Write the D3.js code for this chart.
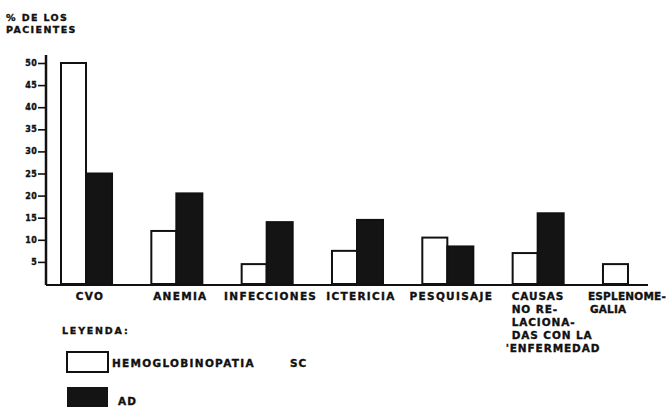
<!DOCTYPE html>
<html>
<head>
<meta charset="utf-8">
<script src="https://cdn.jsdelivr.net/npm/d3@7"></script>
<style>
  body { margin: 0; background: #fff; }
  text { font-family: "DejaVu Sans", sans-serif; font-weight: bold; fill: #111; stroke: #111; stroke-width: 0.35; }
</style>
</head>
<body>
<div id="canvas"></div>
<script>
"use strict"

/* Data */
let categories = ["CVO", "ANEMIA", "INFECCIONES", "ICTERICIA", "PESQUISAJE", "CAUSAS", "ESPLENOMEGALIA"];
let categoryLines = [["CVO"], ["ANEMIA"], ["INFECCIONES"], ["ICTERICIA"], ["PESQUISAJE"],
                     ["CAUSAS", "NO RE-", "LACIONA-", "DAS CON LA", "ENFERMEDAD"],
                     ["ESPLENOME-", "GALIA"]];
let seriesNames = ["SC", "AD"];
let valuesSC = [50, 12, 4.5, 7.5, 10.5, 7, 4.5];
let valuesAD = [25, 20.5, 14, 14.5, 8.5, 16, null];
let yTicks = [5, 10, 15, 20, 25, 30, 35, 40, 45, 50];

/* Drawing config */
let svgWidth = 671;
let svgHeight = 407;
let axisX = 46;
let baseY = 284;

let svg = d3.select("#canvas")
    .append("svg")
    .attr("width", svgWidth)
    .attr("height", svgHeight);

let xScale = d3.scaleBand()
    .domain(categories)
    .range([60, 654])
    .paddingInner(0.424)
    .paddingOuter(0);

let subScale = d3.scaleBand()
    .domain(seriesNames)
    .range([0, xScale.bandwidth()]);

let yScale = d3.scaleLinear()
    .domain([0, 50])
    .range([baseY, 63]);

/* bars */
let rows = categories.map((c, i) => ({cat: c, SC: valuesSC[i], AD: valuesAD[i]}));

let groups = svg.selectAll("g.grp")
    .data(rows)
    .join("g")
    .attr("class", "grp")
    .attr("transform", d => "translate(" + xScale(d.cat) + ",0)");

groups.selectAll("rect")
    .data(d => seriesNames.filter(s => d[s] != null).map(s => ({s: s, v: d[s]})))
    .join("rect")
    .attr("x", d => subScale(d.s) + (d.s === "SC" ? 1 : 0))
    .attr("y", d => yScale(d.v))
    .attr("width", d => subScale.bandwidth() - (d.s === "SC" ? 1 : 0))
    .attr("height", d => baseY - yScale(d.v))
    .attr("fill", d => d.s === "SC" ? "#fff" : "#141414")
    .attr("stroke", "#111")
    .attr("stroke-width", 2);

/* y axis */
let yAxis = svg.append("g")
    .attr("transform", "translate(" + axisX + ",0)")
    .call(d3.axisLeft(yScale).tickValues(yTicks).tickSize(8).tickSizeOuter(0).tickPadding(1));
yAxis.select(".domain").remove();
yAxis.selectAll(".tick line").attr("stroke", "#111").attr("stroke-width", 1.6);
yAxis.selectAll(".tick text")
    .attr("font-family", "DejaVu Sans")
    .attr("font-weight", "bold")
    .attr("font-size", 8)
    .attr("letter-spacing", 0.3)
    .attr("fill", "#111");

svg.append("line")
    .attr("x1", axisX).attr("x2", axisX)
    .attr("y1", 55).attr("y2", baseY + 1)
    .attr("stroke", "#111").attr("stroke-width", 2.5);

svg.append("line")
    .attr("x1", axisX).attr("x2", 648)
    .attr("y1", baseY + 1).attr("y2", baseY + 1)
    .attr("stroke", "#111").attr("stroke-width", 2);

/* y title */
svg.append("text").attr("x", 6).attr("y", 21)
    .attr("font-size", 9.5).attr("letter-spacing", 1.4)
    .text("% DE LOS");
svg.append("text").attr("x", 6).attr("y", 33)
    .attr("font-size", 9.5).attr("letter-spacing", 1.4)
    .text("PACIENTES");

/* category labels */
categoryLines.forEach((lines, i) => {
    let multi = lines.length > 1;
    let x0 = multi ? xScale(categories[i]) + (i === 6 ? -14 : 0) : xScale(categories[i]) + xScale.bandwidth() / 2 + 4;
    lines.forEach((t, j) => {
        svg.append("text")
            .attr("x", x0 + (i === 6 && j === 1 ? 2 : 0) + (i === 5 && j === 4 ? -6 : 0))
            .attr("y", 300 + j * 13)
            .attr("text-anchor", multi ? "start" : "middle")
            .attr("font-size", 10.5)
            .attr("letter-spacing", i === 6 ? 0.2 : (multi ? 0.9 : 1.3))
            .text((i === 5 && j === 4 ? "'" : "") + t);
    });
});

/* legend */
svg.append("text").attr("x", 62).attr("y", 334)
    .attr("font-size", 9.5).attr("letter-spacing", 1.8)
    .text("LEYENDA:");

svg.append("rect")
    .attr("x", 67).attr("y", 352).attr("width", 41).attr("height", 20)
    .attr("fill", "#fff").attr("stroke", "#111").attr("stroke-width", 2);
svg.append("text").attr("x", 112).attr("y", 367)
    .attr("font-size", 10.5).attr("letter-spacing", 1.3)
    .text("HEMOGLOBINOPATIA");
svg.append("text").attr("x", 290).attr("y", 367)
    .attr("font-size", 10.5).attr("letter-spacing", 1)
    .text(seriesNames[0]);

svg.append("rect")
    .attr("x", 67).attr("y", 387).attr("width", 41).attr("height", 24)
    .attr("fill", "#141414");
svg.append("text").attr("x", 118).attr("y", 405)
    .attr("font-size", 10.5).attr("letter-spacing", 1)
    .text(seriesNames[1]);
</script>
</body>
</html>
